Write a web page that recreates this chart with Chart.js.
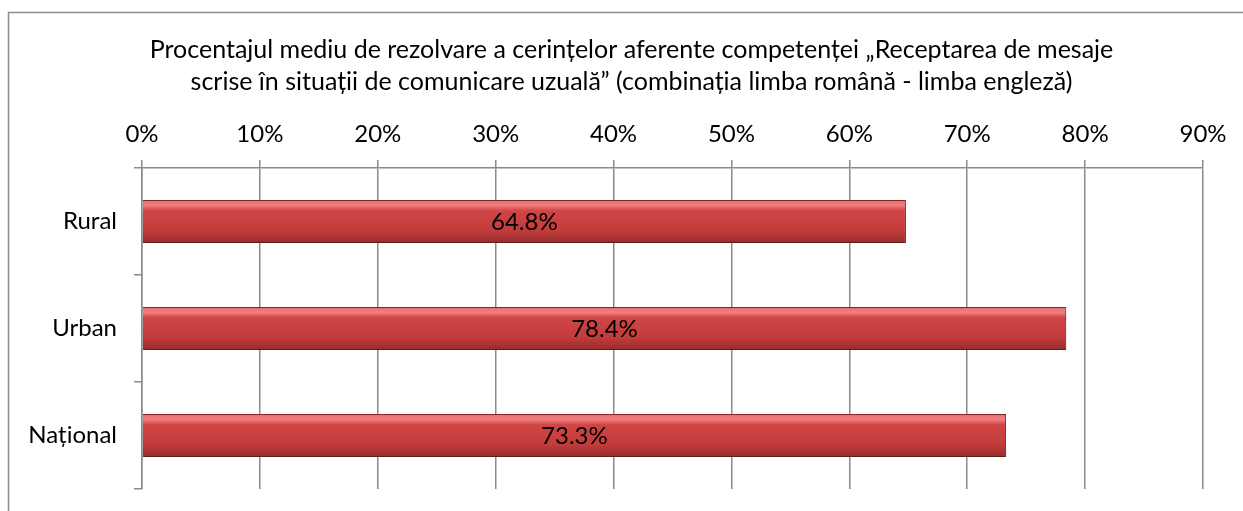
<!DOCTYPE html>
<html>
<head>
<meta charset="utf-8">
<script src="https://cdn.jsdelivr.net/npm/chart.js@4"></script>
<style>
  html, body { margin: 0; padding: 0; background: #fff; }
  #wrap { width: 1243px; height: 511px; position: relative; }
</style>
</head>
<body>
<div id="wrap"><canvas id="js--chart--1"></canvas></div>
<script>
const categories = ["Rural", "Urban", "Național"];
const values = [64.8, 78.4, 73.3];
const tickValues = [0, 10, 20, 30, 40, 50, 60, 70, 80, 90];
const titleLines = [
    "Procentajul mediu de rezolvare a cerințelor aferente competenței „Receptarea de mesaje",
    "scrise în situații de comunicare uzuală” (combinația limba română - limba engleză)"
];

const fontName = "Lato, 'Open Sans', sans-serif";
const gridColor = "#8a8a8a";

// vertical gradient for each bar, taken from the y scale
function barFill(context) {
    const chart = context.chart;
    const yScale = chart.scales.y;
    if (!yScale || !chart.chartArea) {
        return "#c83c3c";
    }
    const center = yScale.getPixelForValue(context.dataIndex);
    const half = yScale.height / categories.length * 0.4 / 2;
    const g = chart.ctx.createLinearGradient(0, center - half, 0, center + half);
    g.addColorStop(0, "#e86b6b");
    g.addColorStop(0.12, "#f08080");
    g.addColorStop(0.25, "#d04545");
    g.addColorStop(0.7, "#c43c3c");
    g.addColorStop(1, "#962c2c");
    return g;
}

// frame around the whole chart
const framePlugin = {
    id: "frame",
    beforeDraw(chart) {
        const ctx = chart.ctx;
        ctx.save();
        ctx.strokeStyle = "#8c8c8c";
        ctx.lineWidth = 1.5;
        ctx.strokeRect(8.5, 12.5, chart.width + 20, chart.height + 20);
        ctx.restore();
    }
};

// soft shadow under the bars
const shadowPlugin = {
    id: "barShadow",
    beforeDatasetDraw(chart) {
        const ctx = chart.ctx;
        ctx.save();
        ctx.shadowColor = "rgba(0,0,0,0.35)";
        ctx.shadowBlur = 5;
        ctx.shadowOffsetX = 1;
        ctx.shadowOffsetY = 3;
    },
    afterDatasetDraw(chart) {
        chart.ctx.restore();
    }
};

// value labels in the middle of each bar
const labelPlugin = {
    id: "barLabels",
    afterDatasetsDraw(chart) {
        const ctx = chart.ctx;
        const meta = chart.getDatasetMeta(0);
        ctx.save();
        ctx.font = "24px " + fontName;
        ctx.fillStyle = "#000";
        ctx.textAlign = "center";
        ctx.textBaseline = "middle";
        meta.data.forEach(function(bar, i) {
            const p = bar.getProps(["x", "y", "base"], true);
            ctx.fillText(values[i].toFixed(1) + "%", (p.x + p.base) / 2, p.y + 1);
        });
        ctx.restore();
    }
};

function noVerticalPadding(scale) {
    scale.paddingTop = 0;
    scale.paddingBottom = 0;
}

const data = {
    labels: categories,
    datasets: [
        {
            label: "Procentaj",
            data: values,
            backgroundColor: barFill,
            borderColor: "#8a2626",
            borderWidth: 1,
            borderSkipped: "start",
            categoryPercentage: 0.4,
            barPercentage: 1
        }
    ]
};

const config = {
    type: "bar",
    data: data,
    options: {
        indexAxis: "y",
        responsive: true,
        maintainAspectRatio: false,
        animation: false,
        layout: {
            padding: { left: 20, right: 0, top: 12, bottom: 22 }
        },
        plugins: {
            legend: { display: false },
            tooltip: { enabled: false },
            title: {
                display: true,
                text: titleLines,
                color: "#000",
                font: { family: fontName, size: 25, weight: "normal", lineHeight: 1.28 },
                padding: { top: 22, bottom: 0 }
            }
        },
        scales: {
            x: {
                position: "top",
                min: 0,
                max: 90,
                afterBuildTicks(scale) {
                    scale.ticks = tickValues.map(function(v) { return { value: v }; });
                },
                afterFit(scale) {
                    scale.height = 70;
                },
                ticks: {
                    color: "#000",
                    font: { family: fontName, size: 24 },
                    padding: 11,
                    callback: function(v) { return v + "%"; }
                },
                grid: {
                    color: gridColor,
                    lineWidth: 1.5,
                    tickLength: 8
                },
                border: { color: gridColor, width: 1.5 }
            },
            y: {
                afterFit(scale) {
                    scale.width = 122;
                    noVerticalPadding(scale);
                },
                ticks: {
                    color: "#000",
                    font: { family: fontName, size: 24 },
                    padding: 17
                },
                grid: {
                    color: gridColor,
                    lineWidth: 1.5,
                    drawOnChartArea: false,
                    tickLength: 8,
                    offset: true
                },
                border: { color: gridColor, width: 1.5 }
            },
            // empty strip on the right so the title stays centred on the whole frame
            yRight: {
                position: "right",
                type: "linear",
                afterFit(scale) {
                    scale.width = 40;
                    noVerticalPadding(scale);
                },
                ticks: { display: false },
                grid: { display: false },
                border: { display: false }
            }
        }
    },
    plugins: [framePlugin, shadowPlugin, labelPlugin]
};

const chart1 = new Chart(document.getElementById("js--chart--1"), config);
</script>
</body>
</html>
